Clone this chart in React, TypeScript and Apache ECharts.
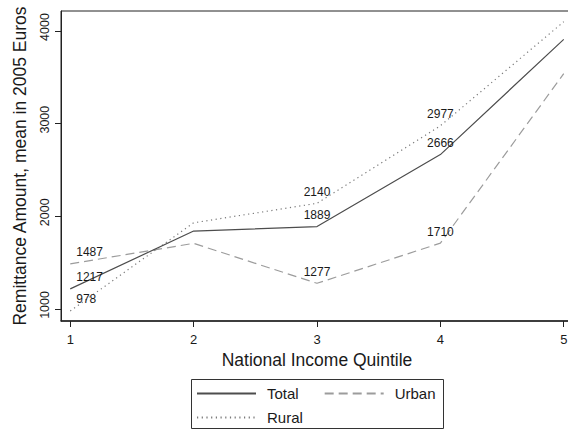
import React, { useEffect, useRef } from "react";
import * as echarts from "echarts";

const quintiles = [1, 2, 3, 4, 5];
const totalValues = [1217, 1841, 1889, 2666, 3910];
const urbanValues = [1487, 1708, 1277, 1710, 3540];
const ruralValues = [978, 1930, 2140, 2977, 4100];
const labelledIdx = [0, 2, 3];
const yTicks = [1000, 2000, 3000, 4000];
const xTicks = [1, 2, 3, 4, 5];

const FONT = "'Liberation Sans', Arial, Helvetica, sans-serif";
const TXT = "#1a1a1a";

function buildData(values: number[]) {
  return values.map((v, i) => {
    const item: any = { value: [quintiles[i], v] };
    if (labelledIdx.includes(i)) {
      item.label = {
        show: true,
        position: "top",
        distance: 5,
        formatter: String(v),
        color: TXT,
        fontSize: 12,
        fontFamily: FONT,
        ...(i === 0 ? { align: "left", offset: [6, 0] } : {}),
      };
    }
    return item;
  });
}

export default function App() {
  const ref = useRef<HTMLDivElement>(null);
  useEffect(() => {
    if (!ref.current) return;
    const chart = echarts.init(ref.current, null, { renderer: "svg" });
    const common = {
      type: "line",
      symbol: "circle",
      symbolSize: 1,
      itemStyle: { color: "rgba(0,0,0,0)" },
      label: { show: false },
      emphasis: { disabled: true },
    };
    chart.setOption({
      animation: false,
      textStyle: { fontFamily: FONT, color: TXT },
      grid: {
        left: 61,
        top: 11,
        width: 512,
        height: 310,
        show: true,
        borderColor: "#222",
        borderWidth: 1,
        backgroundColor: "#fff",
        outerBoundsMode: "none",
        containLabel: false,
      },
      xAxis: {
        type: "value",
        min: 0.925,
        max: 5.075,
        name: "National Income Quintile",
        nameLocation: "middle",
        nameGap: 28,
        nameTextStyle: { fontSize: 17.5, color: TXT, fontFamily: FONT },
        axisLine: { show: true, onZero: false, lineStyle: { color: "#222", width: 1.5 } },
        axisTick: { show: true, length: 6, lineStyle: { color: "#222" }, customValues: xTicks },
        axisLabel: {
          customValues: xTicks,
          fontSize: 13,
          color: TXT,
          margin: 12,
          fontFamily: FONT,
          formatter: (v: number) => String(v),
        },
        splitLine: { show: false },
      },
      yAxis: {
        type: "value",
        min: 870,
        max: 4216,
        name: "Remittance Amount, mean in 2005 Euros",
        nameLocation: "middle",
        nameRotate: 90,
        nameGap: 32,
        nameTextStyle: { fontSize: 17.5, color: TXT, fontFamily: FONT },
        axisLine: { show: true, onZero: false, lineStyle: { color: "#222", width: 1 } },
        axisTick: { show: true, length: 6, lineStyle: { color: "#222" }, customValues: yTicks },
        axisLabel: {
          customValues: yTicks,
          fontSize: 12.5,
          color: TXT,
          margin: 10,
          rotate: 90,
          padding: [0, 0, 0, 8],
          fontFamily: FONT,
          formatter: (v: number) => String(v),
        },
        splitLine: { show: false },
      },
      legend: [
        {
          data: ["Total", "Urban"],
          left: 196,
          top: 386,
          padding: 0,
          itemWidth: 59,
          itemHeight: 14,
          itemGap: 25,
          textStyle: { fontSize: 15, color: TXT, fontFamily: FONT, padding: [0, 0, 0, 6] },
          selectedMode: false,
        },
        {
          data: ["Rural"],
          left: 196,
          top: 410,
          padding: 0,
          itemWidth: 59,
          itemHeight: 14,
          textStyle: { fontSize: 15, color: TXT, fontFamily: FONT, padding: [0, 0, 0, 6] },
          selectedMode: false,
        },
      ],
      graphic: [
        {
          type: "rect",
          shape: { x: 191.5, y: 379.5, width: 252, height: 49 },
          style: { fill: "none", stroke: "#333", lineWidth: 1 },
          z: 0,
        },
      ],
      series: [
        {
          ...common,
          name: "Total",
          data: buildData(totalValues),
          lineStyle: { color: "#4d4d4d", width: 1.2, type: "solid" },
          z: 3,
        },
        {
          ...common,
          name: "Urban",
          data: buildData(urbanValues),
          lineStyle: { color: "#9c9c9c", width: 1.2, type: [9, 5] },
          z: 2,
        },
        {
          ...common,
          name: "Rural",
          data: buildData(ruralValues),
          lineStyle: { color: "#7a7a7a", width: 1.2, type: [1.2, 3.5] },
          z: 2,
        },
      ],
    });
    return () => chart.dispose();
  }, []);
  return <div ref={ref} style={{ width: 568, height: 430, position: "absolute", left: 0, top: 0 }} />;
}
